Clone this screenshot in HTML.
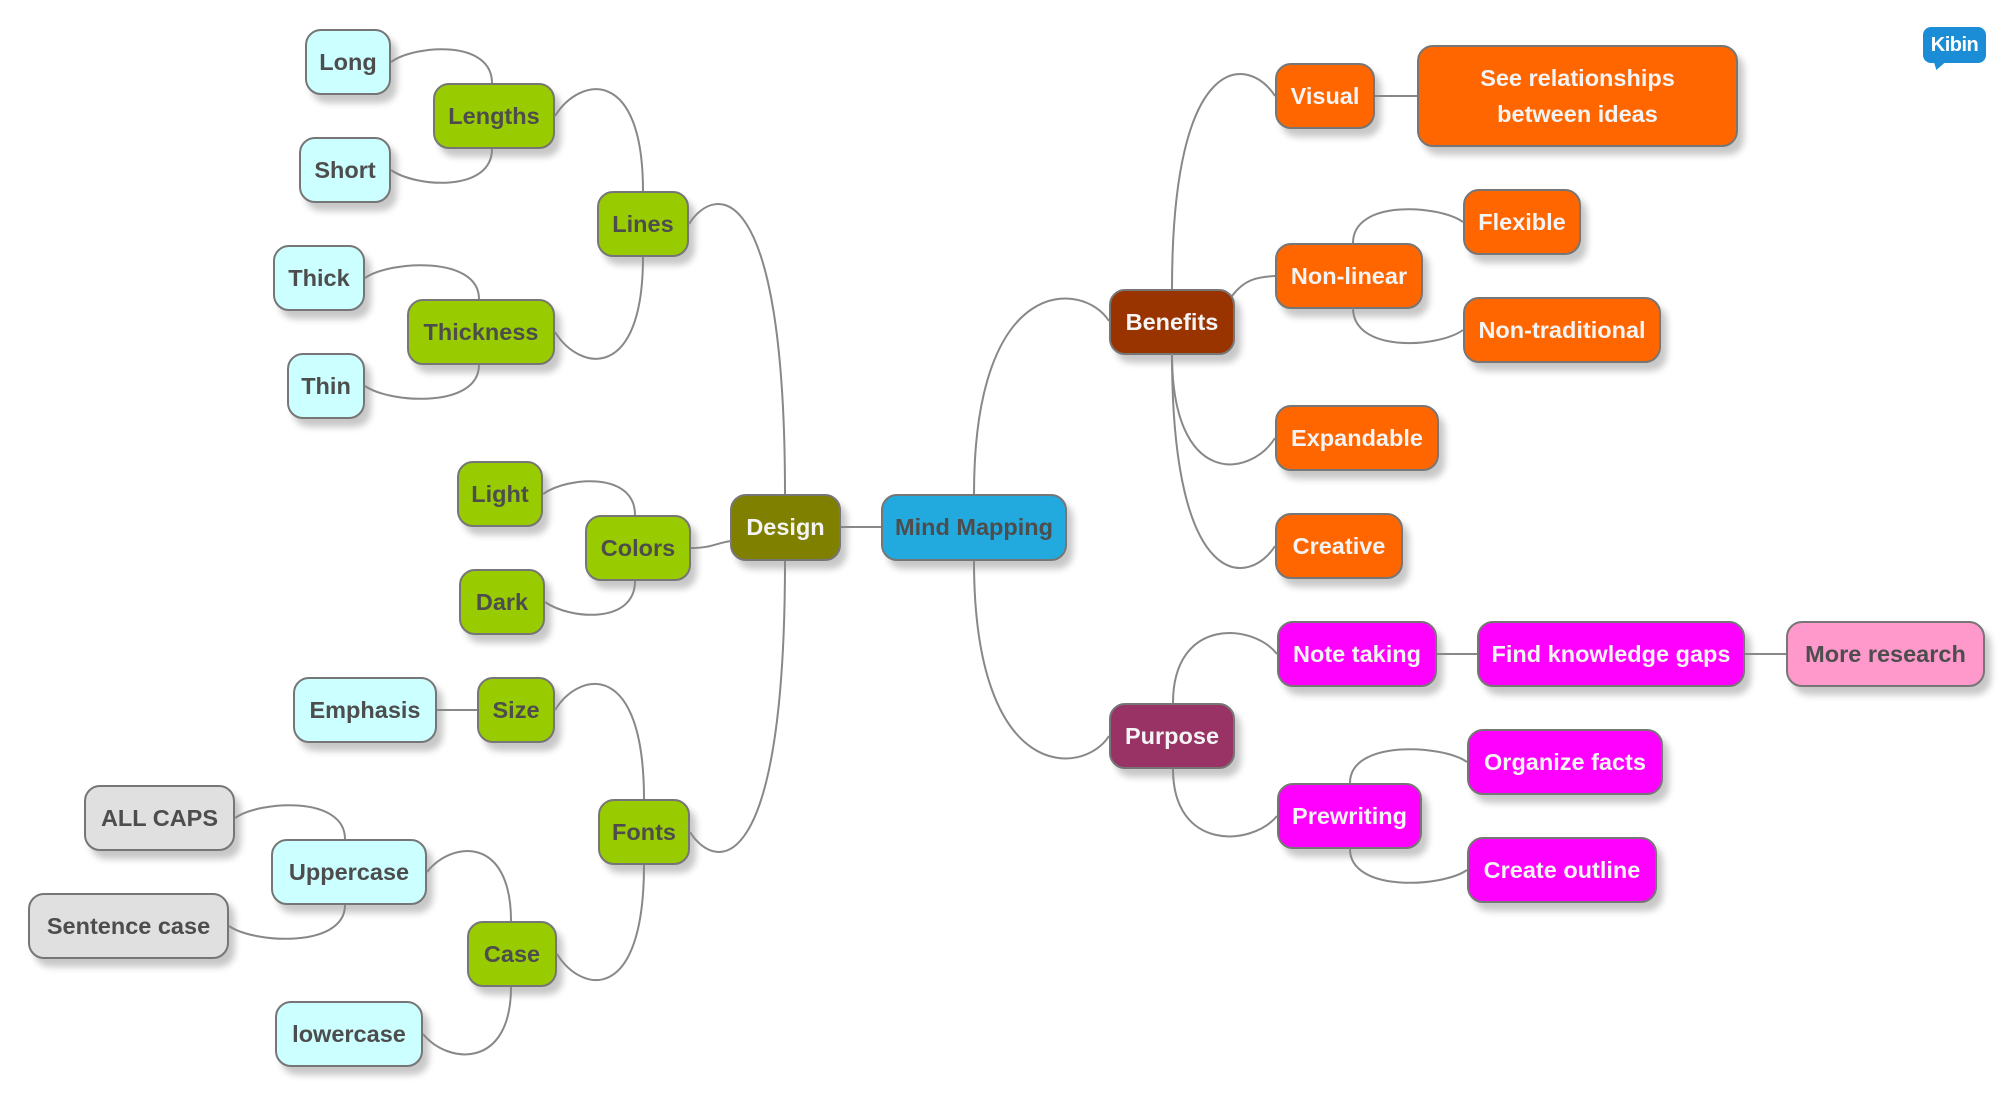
<!DOCTYPE html>
<html>
<head>
<meta charset="utf-8">
<style>
  html,body{margin:0;padding:0;background:#ffffff;}
  body{width:2016px;height:1098px;position:relative;overflow:hidden;}
  .n{position:absolute;box-sizing:border-box;border:2px solid #767676;border-radius:16px;
     box-shadow:6px 8px 7px rgba(0,0,0,0.22);display:flex;align-items:center;justify-content:center;
     font-family:"Liberation Sans",Arial,sans-serif;font-weight:bold;font-size:23.5px;color:#4d4d4d;
     white-space:nowrap;height:66px;text-align:center;}
  .w{color:#f4f4f4;}
  .cy{background:#ccffff;}
  .gr{background:#99cc00;}
  .ol{background:#808000;}
  .bl{background:#22aadf;}
  .or{background:#ff6600;}
  .br{background:#993300;}
  .mg{background:#ff00ff;}
  .pk{background:#ff99cc;}
  .pu{background:#993366;}
  .gy{background:#e0e0e0;}
  svg{position:absolute;left:0;top:0;z-index:5;pointer-events:none;}
  .kib{position:absolute;left:1923px;top:27px;width:63px;height:36px;background:#1b8dd6;border-radius:8px;
       color:#fff;font-family:"Liberation Sans",Arial,sans-serif;font-weight:bold;font-size:20px;
       display:flex;align-items:center;justify-content:center;letter-spacing:-0.5px;}
  .kibt{position:absolute;left:1932px;top:61px;width:0;height:0;border-left:6px solid transparent;border-right:7px solid transparent;border-top:9px solid #1b8dd6;transform:skewX(-20deg);}
</style>
</head>
<body>

<!-- Left side -->
<div class="n cy" style="left:305px;top:29px;width:86px;">Long</div>
<div class="n gr" style="left:433px;top:83px;width:122px;">Lengths</div>
<div class="n cy" style="left:299px;top:137px;width:92px;">Short</div>
<div class="n gr" style="left:597px;top:191px;width:92px;">Lines</div>
<div class="n cy" style="left:273px;top:245px;width:92px;">Thick</div>
<div class="n gr" style="left:407px;top:299px;width:148px;">Thickness</div>
<div class="n cy" style="left:287px;top:353px;width:78px;">Thin</div>
<div class="n gr" style="left:457px;top:461px;width:86px;">Light</div>
<div class="n gr" style="left:585px;top:515px;width:106px;">Colors</div>
<div class="n gr" style="left:459px;top:569px;width:86px;">Dark</div>
<div class="n ol w" style="left:730px;top:494px;width:111px;height:67px;">Design</div>
<div class="n bl" style="left:881px;top:494px;width:186px;height:67px;">Mind Mapping</div>
<div class="n cy" style="left:293px;top:677px;width:144px;">Emphasis</div>
<div class="n gr" style="left:477px;top:677px;width:78px;">Size</div>
<div class="n gr" style="left:598px;top:799px;width:92px;">Fonts</div>
<div class="n gy" style="left:84px;top:785px;width:151px;">ALL CAPS</div>
<div class="n cy" style="left:271px;top:839px;width:156px;">Uppercase</div>
<div class="n gy" style="left:28px;top:893px;width:201px;">Sentence case</div>
<div class="n gr" style="left:467px;top:921px;width:90px;">Case</div>
<div class="n cy" style="left:275px;top:1001px;width:148px;">lowercase</div>

<!-- Right side -->
<div class="n or w" style="left:1275px;top:63px;width:100px;">Visual</div>
<div class="n or w" style="left:1417px;top:45px;width:321px;height:102px;line-height:36px;">See relationships<br>between ideas</div>
<div class="n or w" style="left:1463px;top:189px;width:118px;">Flexible</div>
<div class="n or w" style="left:1275px;top:243px;width:148px;">Non-linear</div>
<div class="n br w" style="left:1109px;top:289px;width:126px;">Benefits</div>
<div class="n or w" style="left:1463px;top:297px;width:198px;">Non-traditional</div>
<div class="n or w" style="left:1275px;top:405px;width:164px;">Expandable</div>
<div class="n or w" style="left:1275px;top:513px;width:128px;">Creative</div>
<div class="n mg w" style="left:1277px;top:621px;width:160px;">Note taking</div>
<div class="n mg w" style="left:1477px;top:621px;width:268px;">Find knowledge gaps</div>
<div class="n pk" style="left:1786px;top:621px;width:199px;">More research</div>
<div class="n pu w" style="left:1109px;top:703px;width:126px;">Purpose</div>
<div class="n mg w" style="left:1467px;top:729px;width:196px;">Organize facts</div>
<div class="n mg w" style="left:1277px;top:783px;width:145px;">Prewriting</div>
<div class="n mg w" style="left:1467px;top:837px;width:190px;">Create outline</div>

<div class="kib">Kibin</div>
<div class="kibt"></div>

<svg width="2016" height="1098" viewBox="0 0 2016 1098">
  <g fill="none" stroke="#888888" stroke-width="2">
    <!-- left -->
    <path d="M391,62 C416,44.5 492,39.5 492,83"/>
    <path d="M391,170 C416,187.5 492,192.5 492,149"/>
    <path d="M555,116 C580,76 643,66.5 643,191"/>
    <path d="M555,332 C580,372 643,381.5 643,257"/>
    <path d="M365,278 C390,260.5 479,255.5 479,299"/>
    <path d="M365,386 C390,403.5 479,408.5 479,365"/>
    <path d="M689,224 C714,184 785,174 785,494"/>
    <path d="M690,832 C715,872 785,882 785,561"/>
    <path d="M543,494 C568,476.5 635,471.5 635,515"/>
    <path d="M545,602 C570,619.5 635,624.5 635,581"/>
    <path d="M691,548 C712,548 716,543 731,541"/>
    <path d="M555,710 C580,670 644,660 644,799"/>
    <path d="M557,954 C582,994 644,1004 644,865"/>
    <path d="M427,872 C452,840.5 511,835.5 511,921"/>
    <path d="M423,1034 C448,1064.5 511,1069.5 511,987"/>
    <path d="M235,818 C260,800.5 345,795.5 345,839"/>
    <path d="M229,926 C254,943.5 345,948.5 345,905"/>
    <path d="M437,710 L477,710"/>
    <path d="M841,527 L881,527"/>
    <!-- right -->
    <path d="M1109,321 C1084,281 974,271 974,494"/>
    <path d="M1109,736 C1084,776 974,786 974,561"/>
    <path d="M1275,96 C1250,56 1172,46 1172,289"/>
    <path d="M1232,296 C1244,280 1256,277 1275,276"/>
    <path d="M1275,438 C1250,478 1172,488 1172,354"/>
    <path d="M1275,546 C1250,586 1172,596 1172,354"/>
    <path d="M1463,222 C1438,204.5 1353,199.5 1353,243"/>
    <path d="M1463,330 C1438,348 1353,353 1353,308"/>
    <path d="M1375,96 L1417,96"/>
    <path d="M1277,654 C1252,622.5 1173,617.5 1173,703"/>
    <path d="M1277,816 C1252,846.5 1173,851.5 1173,769"/>
    <path d="M1437,654 L1477,654"/>
    <path d="M1745,654 L1786,654"/>
    <path d="M1467,762 C1442,744.5 1350,739.5 1350,783"/>
    <path d="M1467,870 C1442,887.5 1350,892.5 1350,849"/>
  </g>
</svg>

</body>
</html>
